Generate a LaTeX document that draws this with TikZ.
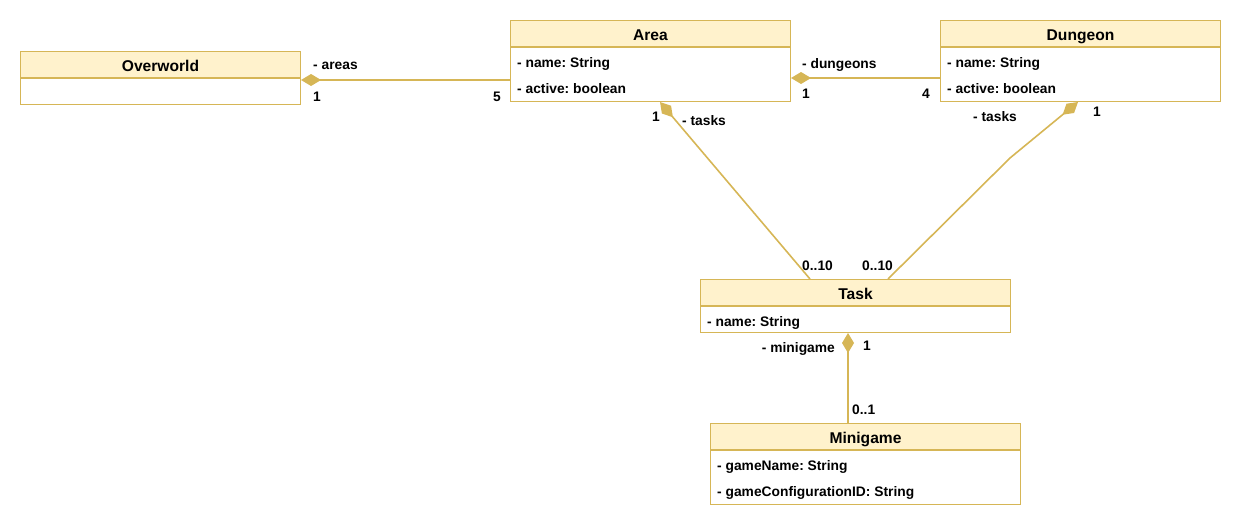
\documentclass[tikz,border=0pt]{standalone}
\usepackage{fontspec}
\setmainfont{Liberation Sans}
\usepackage{tikz}
\usetikzlibrary{arrows.meta,positioning,calc}
\frenchspacing

\definecolor{umlline}{HTML}{D6B656}
\definecolor{umlfill}{HTML}{FFF2CC}

\tikzset{
  classname/.style={draw=umlline, line width=1pt, fill=umlfill, anchor=north west,
    minimum height=26pt, inner sep=0pt, text height=13.4pt, text depth=0pt,
    font=\fontsize{15.6}{18}\selectfont\bfseries},
  classbody/.style={draw=umlline, line width=1pt, fill=white, anchor=north west, inner sep=0pt},
  attr/.style={anchor=west, inner sep=0pt, text height=12pt, text depth=0pt,
    font=\fontsize{13.8}{16}\selectfont\bfseries},
  mult/.style={inner sep=0pt, text height=12pt, text depth=0pt,
    font=\fontsize{13.8}{16}\selectfont\bfseries},
  comp/.style={draw=umlline, line width=1.6pt, arrows={Diamond[length=20pt,width=12pt]-}},
}

\begin{document}
\begin{tikzpicture}[x=1pt,y=-1pt]
            % Fix the page size
            \useasboundingbox (0,0) rectangle (1241,527);

            % Draw the Overworld class
            \node[classname, minimum width=280pt] (overworld) at (20,51) {Overworld};
            \node[classbody, minimum width=280pt, minimum height=26pt] (overworldbody) at (overworld.south west) {};

            % Draw the Area class
            \node[classname, minimum width=280pt] (area) at (510,20) {Area};
            \node[classbody, minimum width=280pt, minimum height=54pt] (areabody) at (area.south west) {};
            \node[attr] (areaname) at (517,61) {- name: String};
            \node[attr] (areaactive) at (517,87) {- active: boolean};

            % Draw the Dungeon class
            \node[classname, minimum width=280pt] (dungeon) at (940,20) {Dungeon};
            \node[classbody, minimum width=280pt, minimum height=54pt] (dungeonbody) at (dungeon.south west) {};
            \node[attr] (dungeonname) at (947,61) {- name: String};
            \node[attr] (dungeonactive) at (947,87) {- active: boolean};

            % Draw the Task class
            \node[classname, minimum width=310pt] (task) at (700,279) {Task};
            \node[classbody, minimum width=310pt, minimum height=26pt] (taskbody) at (task.south west) {};
            \node[attr] (taskname) at (707,320) {- name: String};

            % Draw the Minigame class
            \node[classname, minimum width=310pt] (minigame) at (710,423) {Minigame};
            \node[classbody, minimum width=310pt, minimum height=54pt] (minigamebody) at (minigame.south west) {};
            \node[attr] (minigamename) at (717,464) {- gameName: String};
            \node[attr] (minigameconfig) at (717,490) {- gameConfigurationID: String};

            % Overworld has areas
            \coordinate (owport) at ([yshift=-2pt]overworldbody.north east);
            \draw[comp] (owport) -- (owport -| areabody.west);
            \node[mult, anchor=west] (areasrole) at (313,64) {- areas};
            \node[mult, anchor=west] (areasone) at (313,95) {1};
            \node[mult, anchor=east] (areasfive) at (501,95) {5};

            % Area has dungeons
            \coordinate (areaport) at ([yshift=-31pt]areabody.north east);
            \draw[comp] (areaport) -- (areaport -| dungeonbody.west);
            \node[mult, anchor=west] (dungeonsrole) at (802,62) {- dungeons};
            \node[mult, anchor=west] (dungeonsone) at (802,92) {1};
            \node[mult, anchor=east] (dungeonsfour) at (930,92) {4};

            % Area has tasks
            \draw[comp] ([xshift=150pt]areabody.south west) -- ([xshift=110pt]task.north west);
            \node[mult, anchor=east] (areatasksone) at (660,115) {1};
            \node[mult, anchor=west] (areatasksrole) at (682,119) {- tasks};
            \node[mult, anchor=west] (areatasksmany) at (802,264) {0..10};

            % Dungeon has tasks
            \coordinate (bend) at (1010,158);
            \draw[comp] ([xshift=138pt]dungeonbody.south west) -- (bend) -- ([xshift=188pt]task.north west);
            \node[mult, anchor=west] (dungeontasksrole) at (973,115) {- tasks};
            \node[mult, anchor=west] (dungeontasksone) at (1093,110) {1};
            \node[mult, anchor=west] (dungeontasksmany) at (862,264) {0..10};

            % Task has a minigame
            \draw[comp] ([xshift=148pt]taskbody.south west) -- ([xshift=138pt]minigame.north west);
            \node[mult, anchor=east] (minigamerole) at (835,346) {- minigame};
            \node[mult, anchor=west] (minigameone) at (863,344) {1};
            \node[mult, anchor=west] (minigamemany) at (852,408) {0..1};

        \end{tikzpicture}
\end{document}
